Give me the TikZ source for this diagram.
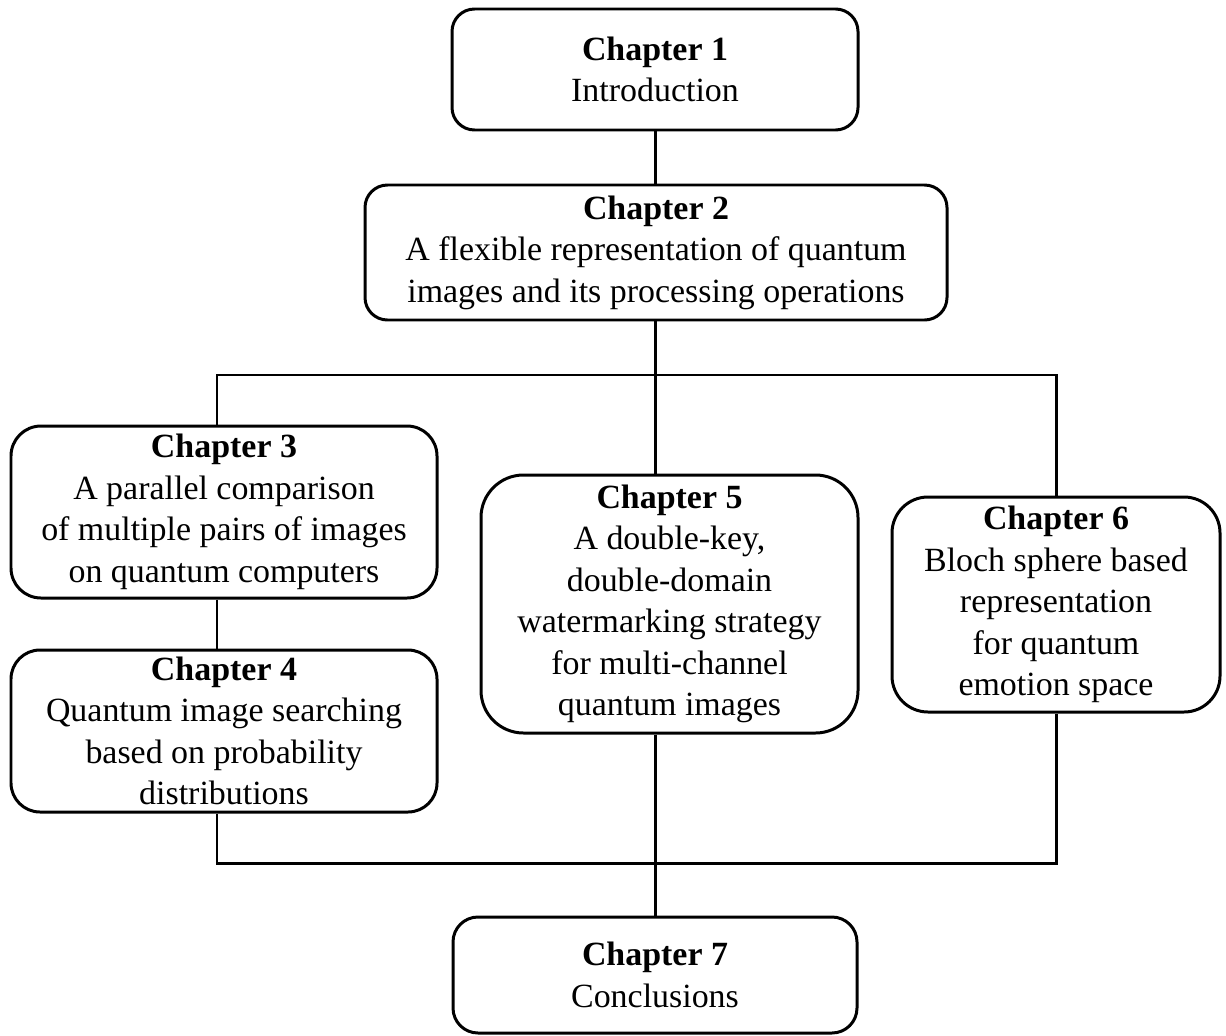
\documentclass[tikz,border=0pt]{standalone}
\usepackage{fontspec}
\setmainfont{Liberation Serif}
\usetikzlibrary{positioning, calc}

\begin{document}
\begin{tikzpicture}[
  chapbox/.style={draw, line width=1.7pt, rounded corners=#1, align=center, inner sep=0pt,
               font=\fontsize{19.3}{23.6}\selectfont},
  chapbox/.default=0.5cm,
  link/.style={line width=1.7pt},
]
  \useasboundingbox (0,0) rectangle (24.52,-20.70);

  \node[chapbox=0.45cm, minimum width=8.12cm, minimum height=2.42cm] (ch1) at (13.10,-1.39)
    {\textbf{Chapter 1}\\Introduction};
  \node[chapbox=0.45cm, minimum width=11.64cm, minimum height=2.70cm] (ch2) at (13.12,-5.05)
    {\textbf{Chapter 2}\\A flexible representation of quantum\\images and its processing operations};
  \node[chapbox=0.6cm, minimum width=8.52cm, minimum height=3.44cm] (ch3) at (4.48,-10.24)
    {\textbf{Chapter 3}\\A parallel comparison\\of multiple pairs of images\\on quantum computers};
  \node[chapbox=0.58cm, minimum width=8.52cm, minimum height=3.24cm] (ch4) at (4.48,-14.62)
    {\textbf{Chapter 4}\\Quantum image searching\\based on probability\\distributions};
  \node[chapbox=0.85cm, minimum width=7.54cm, minimum height=5.16cm] (ch5) at (13.39,-12.08)
    {\textbf{Chapter 5}\\A double-key,\\double-domain\\watermarking strategy\\for multi-channel\\quantum images};
  \node[chapbox=0.72cm, minimum width=6.56cm, minimum height=4.30cm] (ch6) at (21.12,-12.09)
    {\textbf{Chapter 6}\\Bloch sphere based\\representation\\for quantum\\emotion space};
  \node[chapbox=0.5cm, minimum width=8.08cm, minimum height=2.32cm] (ch7) at (13.10,-19.50)
    {\textbf{Chapter 7}\\Conclusions};

  % bus lines
  \coordinate (trunk) at (ch1.south);
  \coordinate (busL) at (4.34,-7.50);
  \coordinate (busR) at (ch6.north |- busL);
  \coordinate (lowL) at (4.34,-17.26);
  \coordinate (lowR) at (ch6.south |- lowL);

  \draw[link] (ch1.south) -- (ch1.south |- ch2.north);
  \draw[link] (ch2.south -| trunk) -- (ch5.north -| trunk);
  \draw[link] (busL |- ch3.north) -- (busL) -- (busR) -- (ch6.north);
  \draw[link] (ch3.south -| busL) -- (ch4.north -| busL);
  \draw[link] (ch4.south -| busL) -- (lowL) -- (lowR) -- (ch6.south);
  \draw[link] (ch5.south -| trunk) -- (ch7.north -| trunk);
\end{tikzpicture}
\end{document}
